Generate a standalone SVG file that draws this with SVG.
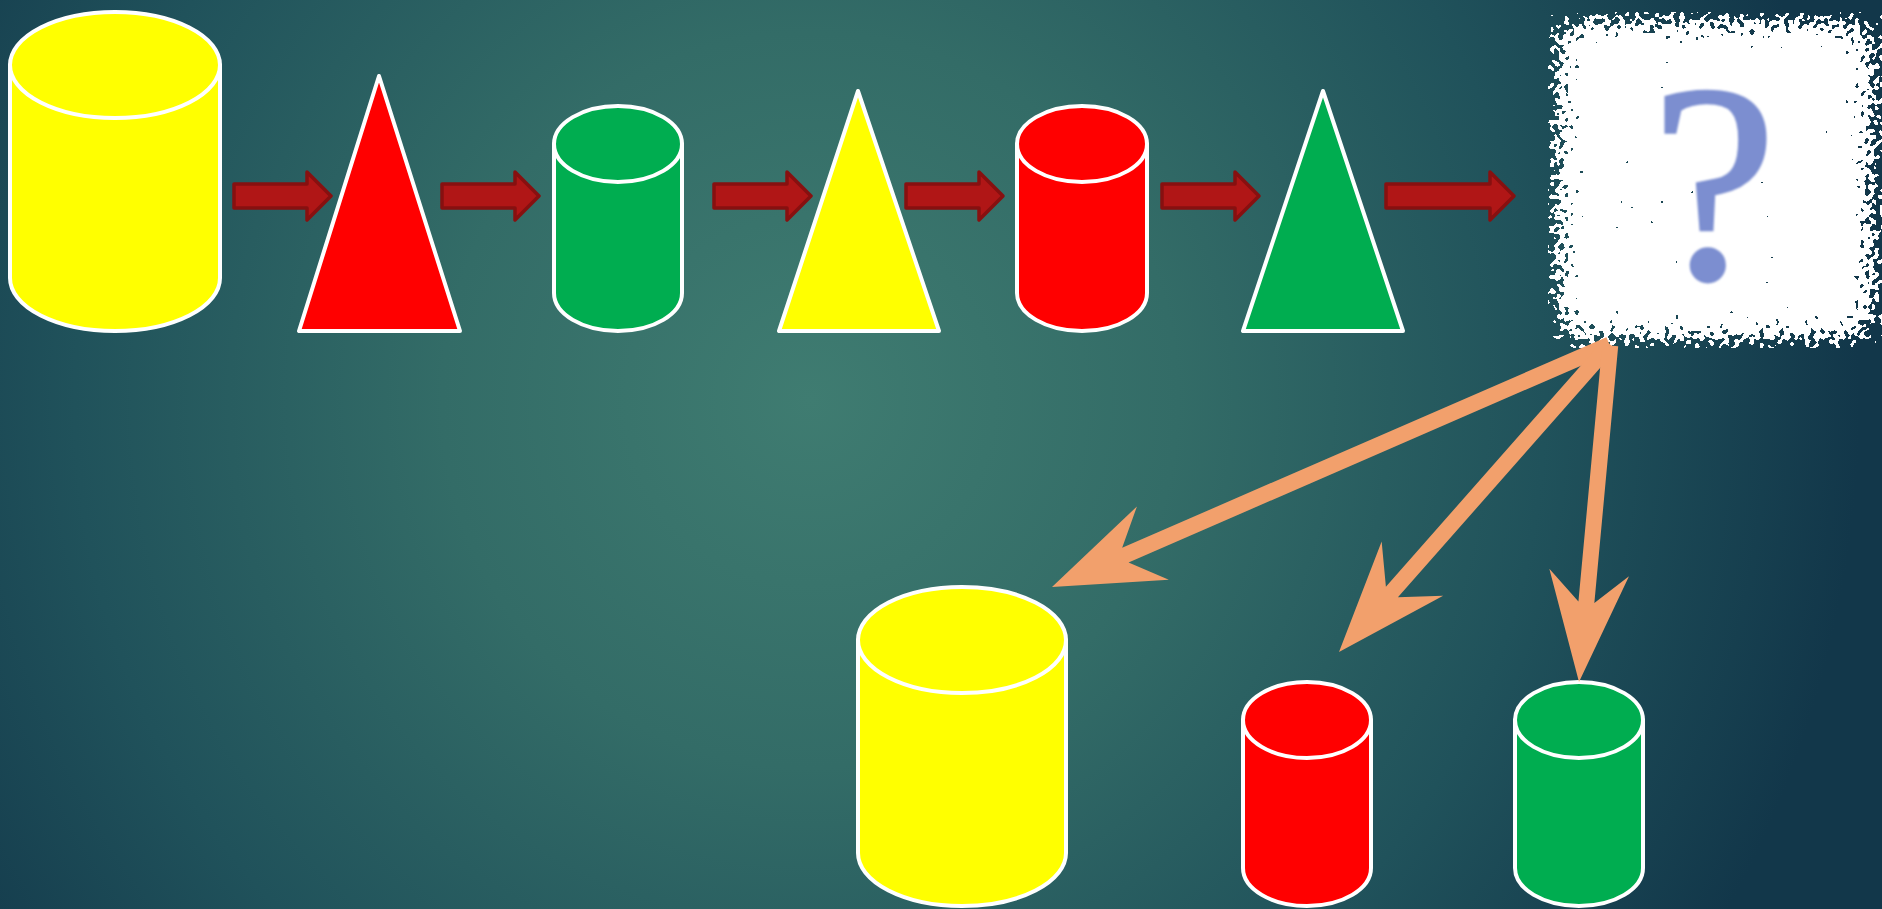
<svg xmlns="http://www.w3.org/2000/svg" width="1882" height="909" viewBox="0 0 1882 909">
<defs>
<radialGradient id="bg" gradientUnits="userSpaceOnUse" cx="810" cy="400" r="1050">
<stop offset="0" stop-color="#3f7c71"/>
<stop offset="0.35" stop-color="#336c67"/>
<stop offset="0.7" stop-color="#20525b"/>
<stop offset="1" stop-color="#12374a"/>
</radialGradient>
<filter id="ragged" x="0" y="0" width="1" height="1" color-interpolation-filters="sRGB">
<feMorphology in="SourceAlpha" operator="erode" radius="9" result="er"/>
<feGaussianBlur in="er" stdDeviation="18" result="ramp"/>
<feTurbulence type="fractalNoise" baseFrequency="0.2" numOctaves="1" seed="9" result="n"/>
<feColorMatrix in="n" type="matrix" values="0 0 0 0 0  0 0 0 0 0  0 0 0 0 0  1 0 0 0 0" result="na"/>
<feComposite in="ramp" in2="na" operator="arithmetic" k1="0" k2="0.6" k3="1" k4="-0.3" result="sum"/>
<feComponentTransfer in="sum">
<feFuncR type="linear" slope="0" intercept="1"/>
<feFuncG type="linear" slope="0" intercept="1"/>
<feFuncB type="linear" slope="0" intercept="1"/>
<feFuncA type="discrete" tableValues="0 1"/>
</feComponentTransfer>
<feComposite in2="SourceAlpha" operator="in"/>
</filter>
<filter id="soft" x="-10%" y="-10%" width="120%" height="120%">
<feGaussianBlur stdDeviation="1.3"/>
</filter>
</defs>
<style>
.shape{stroke:#ffffff;stroke-width:4;stroke-linejoin:round}
.yel{fill:#ffff00}
.red{fill:#ff0000}
.grn{fill:#00ad50}
.blk{fill:#b01616;stroke:#871010;stroke-width:3.5;stroke-linejoin:round}
.org{fill:#f2a06c}
</style>
<rect x="0" y="0" width="1882" height="909" fill="url(#bg)"/>

<g id="cyl-yellow-1" class="shape yel">
<path d="M10,65 L10,278 A105,53 0 0 0 220,278 L220,65 Z"/>
<ellipse cx="115" cy="65" rx="105" ry="53"/>
</g>
<g id="tri-red" class="shape red">
<polygon points="379,76 299,331 460,331"/>
</g>
<g id="cyl-green-1" class="shape grn">
<path d="M554,144 L554,293 A64,38 0 0 0 682,293 L682,144 Z"/>
<ellipse cx="618" cy="144" rx="64" ry="38"/>
</g>
<g id="tri-yellow" class="shape yel">
<polygon points="858,91 779,331 939,331"/>
</g>
<g id="cyl-red-1" class="shape red">
<path d="M1017,144 L1017,293 A65,38 0 0 0 1147,293 L1147,144 Z"/>
<ellipse cx="1082" cy="144" rx="65" ry="38"/>
</g>
<g id="tri-green" class="shape grn">
<polygon points="1323,91 1243,331 1403,331"/>
</g>

<g id="question">
<rect x="1548" y="12" width="334" height="336" fill="#ffffff" filter="url(#ragged)"/>
<text x="1714" y="278" font-family="Liberation Serif, serif" font-size="282" text-anchor="middle" fill="#7b8ed0" stroke="#7b8ed0" stroke-width="3" filter="url(#soft)">?</text>
</g>

<g id="cyl-yellow-2" class="shape yel">
<path d="M858,640 L858,853 A104,53 0 0 0 1066,853 L1066,640 Z"/>
<ellipse cx="962" cy="640" rx="104" ry="53"/>
</g>
<g id="cyl-red-2" class="shape red">
<path d="M1243,720 L1243,868 A64,38 0 0 0 1371,868 L1371,720 Z"/>
<ellipse cx="1307" cy="720" rx="64" ry="38"/>
</g>
<g id="cyl-green-2" class="shape grn">
<path d="M1515,720 L1515,868 A64,38 0 0 0 1643,868 L1643,720 Z"/>
<ellipse cx="1579" cy="720" rx="64" ry="38"/>
</g>

<g id="connectors">
<path class="blk" d="M234,184 H307 V172 L331,196 L307,220 V208 H234 Z"/>
<path class="blk" d="M442,184 H515 V172 L539,196 L515,220 V208 H442 Z"/>
<path class="blk" d="M714,184 H787 V172 L811,196 L787,220 V208 H714 Z"/>
<path class="blk" d="M906,184 H979 V172 L1003,196 L979,220 V208 H906 Z"/>
<path class="blk" d="M1162,184 H1235 V172 L1259,196 L1235,220 V208 H1162 Z"/>
<path class="blk" d="M1386,184 H1490 V172 L1514,196 L1490,220 V208 H1386 Z"/>
<path class="org" transform="translate(1052,587) rotate(156.5)" d="M0,0 L-110,-40 L-80,-8 L-608,-8 L-608,8 L-80,8 L-110,40 Z"/>
<path class="org" transform="translate(1339,652) rotate(131.4)" d="M0,0 L-111,-41 L-80,-8 L-410,-8 L-410,8 L-80,8 L-111,41 Z"/>
<path class="org" transform="translate(1579,682) rotate(95.3)" d="M0,0 L-110,-40 L-80,-8 L-338,-8 L-338,8 L-80,8 L-110,40 Z"/>
</g>
</svg>
